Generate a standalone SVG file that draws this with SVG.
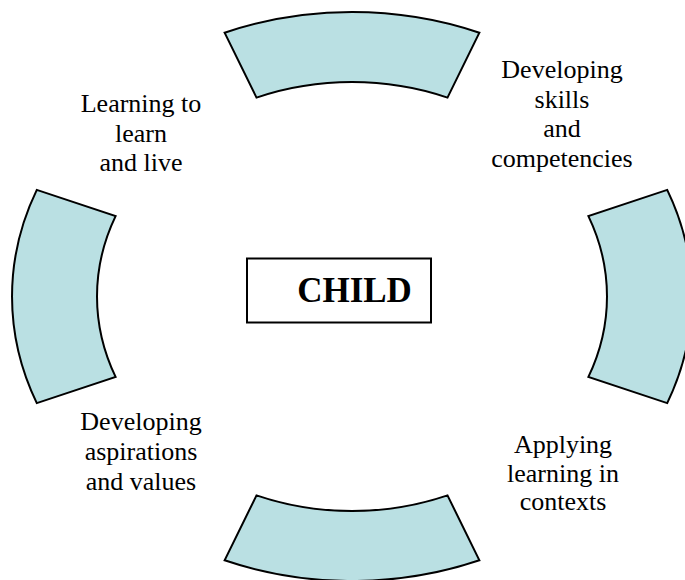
<svg xmlns="http://www.w3.org/2000/svg" width="685" height="580" viewBox="0 0 685 580">
<style>
.seg{fill:#BAE0E3;stroke:#000;stroke-width:2;stroke-linejoin:miter}
.lbl{font-family:"Liberation Serif","Times New Roman",serif;font-size:26px;fill:#000;text-anchor:middle}
.box{fill:#fff;stroke:#000;stroke-width:2}
.ctr{font-family:"Liberation Serif","Times New Roman",serif;font-size:35px;font-weight:bold;fill:#000;text-anchor:middle}
</style>
<rect width="685" height="580" fill="#fff"/>
<g id="seg-top"><path class="seg" d="M224.6,32.7 A340,284.5 0 0 1 479.4,32.7 L447.5,97.6 A255,214.5 0 0 0 256.5,97.6 Z"/></g>
<g id="seg-right"><path class="seg" d="M667.2,189.9 A340,284.5 0 0 1 667.2,403.1 L588.4,376.9 A255,214.5 0 0 0 588.4,216.1 Z"/></g>
<g id="seg-bottom"><path class="seg" d="M479.4,560.3 A340,284.5 0 0 1 224.6,560.3 L256.5,495.4 A255,214.5 0 0 0 447.5,495.4 Z"/></g>
<g id="seg-left"><path class="seg" d="M36.8,403.1 A340,284.5 0 0 1 36.8,189.9 L115.6,216.1 A255,214.5 0 0 0 115.6,376.9 Z"/></g>
<g id="child"><rect class="box" x="247" y="258.5" width="184" height="64"/><text class="ctr" x="354.5" y="302">CHILD</text></g>
<g id="label-learning"><text class="lbl" x="141"><tspan x="141" y="112">Learning to</tspan><tspan x="141" y="142">learn</tspan><tspan x="141" y="171">and live</tspan></text></g>
<g id="label-skills"><text class="lbl" x="562"><tspan x="562" y="78">Developing</tspan><tspan x="562" y="108">skills</tspan><tspan x="562" y="137">and</tspan><tspan x="562" y="167">competencies</tspan></text></g>
<g id="label-aspirations"><text class="lbl" x="141"><tspan x="141" y="430">Developing</tspan><tspan x="141" y="460">aspirations</tspan><tspan x="141" y="490">and values</tspan></text></g>
<g id="label-applying"><text class="lbl" x="563"><tspan x="563" y="453">Applying</tspan><tspan x="563" y="482">learning in</tspan><tspan x="563" y="510">contexts</tspan></text></g>
<g id="connectors"></g>
</svg>
